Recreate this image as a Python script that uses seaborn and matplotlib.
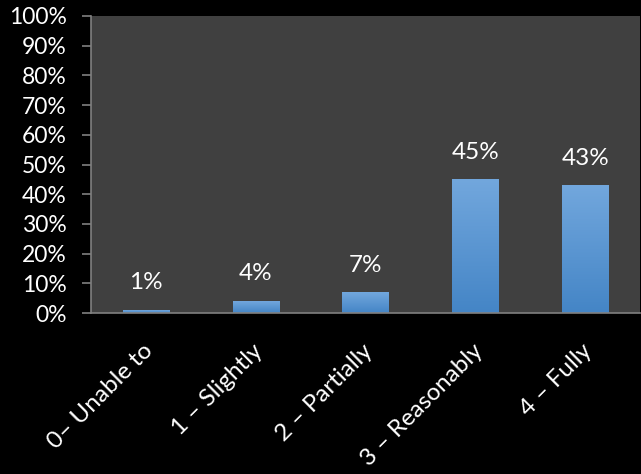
import numpy as np
import pandas as pd
import matplotlib
matplotlib.use("Agg")
import matplotlib.pyplot as plt
import matplotlib.transforms as mtransforms
from matplotlib.colors import LinearSegmentedColormap
import seaborn as sns

categories = ["0\u2013 Unable to", "1 \u2013 Slightly", "2 \u2013 Partially",
              "3 \u2013 Reasonably", "4 \u2013 Fully"]
values = [1, 4, 7, 45, 43]
value_labels = ["1%", "4%", "7%", "45%", "43%"]
y_ticks = [0, 10, 20, 30, 40, 50, 60, 70, 80, 90, 100]
y_tick_labels = [f"{t}%" for t in y_ticks]

sns.set_style("dark")
plt.rcParams['font.family'] = ['Lato', 'DejaVu Sans']

df = pd.DataFrame({"category": categories, "value": values})

fig = plt.figure(figsize=(6.41, 4.74), dpi=100, facecolor="black")
ax = fig.add_axes([91/641, 1 - 313/474, 549/641, (313 - 16)/474])
ax.set_facecolor("#404040")

sns.barplot(data=df, x="category", y="value", color="#5b9bd5", width=0.42,
            ax=ax, saturation=1, edgecolor="none", linewidth=0)

# gradient fill for bars
cmap = LinearSegmentedColormap.from_list("g", ["#4485c6", "#72a7dd"])
grad = np.linspace(0, 1, 256).reshape(-1, 1)
for p in ax.patches:
    x0, y0 = p.get_x(), p.get_y()
    w, h = p.get_width(), p.get_height()
    im = ax.imshow(grad, cmap=cmap, origin="lower", aspect="auto",
                   extent=[x0, x0 + w, y0, y0 + h], zorder=p.get_zorder() + 0.1)
    im.set_clip_path(p)

ax.set_xlim(-0.5, len(categories) - 0.5)
ax.set_ylim(0, 100)
ax.set_yticks(y_ticks)
ax.set_yticklabels(y_tick_labels)
ax.set_xlabel("")
ax.set_ylabel("")
ax.grid(False)

for i, (v, lab) in enumerate(zip(values, value_labels)):
    ax.annotate(lab, (i, v), xytext=(0, 12), textcoords="offset points",
                ha="center", va="bottom", color="white", fontsize=17.5)

for s in ["top", "right"]:
    ax.spines[s].set_visible(False)
for s in ["left", "bottom"]:
    ax.spines[s].set_visible(True)
    ax.spines[s].set_color("#808080")
    ax.spines[s].set_linewidth(1.2)

ax.tick_params(axis="y", colors="#808080", length=6.5, width=1.2, labelcolor="white",
               labelsize=16.5, left=True, pad=11)
ax.tick_params(axis="x", length=0, labelcolor="white", labelsize=17.5, pad=25)
offset = mtransforms.ScaledTranslation(4/100, 0, fig.dpi_scale_trans)
for t in ax.get_xticklabels():
    t.set_rotation(45)
    t.set_ha("right")
    t.set_va("center")
    t.set_rotation_mode("anchor")
    t.set_transform(t.get_transform() + offset)

fig.savefig("out.png", dpi=100, facecolor="black")
